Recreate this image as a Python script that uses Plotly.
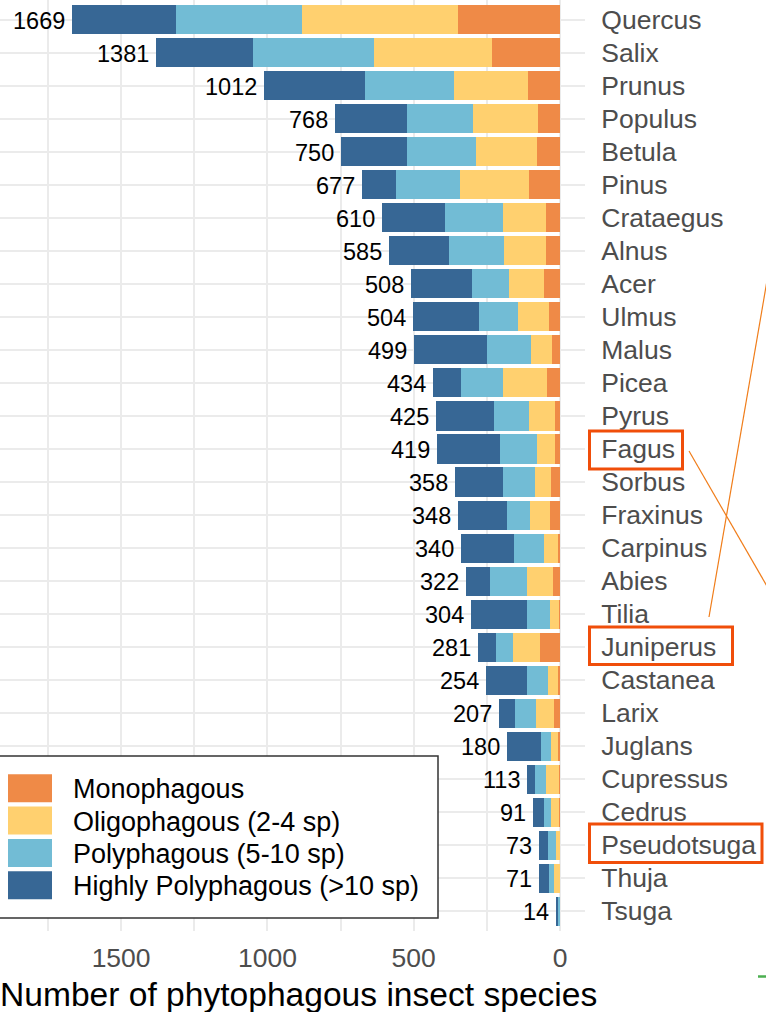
import plotly.graph_objects as go

# ---------------- data ----------------
genera = ["Quercus", "Salix", "Prunus", "Populus", "Betula", "Pinus", "Crataegus",
          "Alnus", "Acer", "Ulmus", "Malus", "Picea", "Pyrus", "Fagus", "Sorbus",
          "Fraxinus", "Carpinus", "Abies", "Tilia", "Juniperus", "Castanea", "Larix",
          "Juglans", "Cupressus", "Cedrus", "Pseudotsuga", "Thuja", "Tsuga"]
totals = [1669, 1381, 1012, 768, 750, 677, 610, 585, 508, 504, 499, 434, 425, 419,
          358, 348, 340, 322, 304, 281, 254, 207, 180, 113, 91, 73, 71, 14]
monophagous = [349, 232, 110, 76, 79, 106, 47, 48, 55, 38, 27, 43, 16, 17,
               31, 33, 6, 25, 2, 67, 6, 21, 8, 2, 3, 1, 0, 0]
oligophagous = [533, 403, 252, 222, 208, 236, 148, 144, 119, 104, 73, 152, 90, 62,
                55, 69, 49, 88, 31, 92, 35, 62, 23, 46, 29, 11, 20, 0]
polyphagous = [431, 414, 304, 226, 235, 219, 197, 188, 127, 135, 149, 145, 119, 125,
               109, 80, 103, 126, 81, 60, 72, 71, 34, 36, 23, 30, 19, 9]
highly_poly = [356, 332, 346, 244, 228, 116, 218, 205, 207, 227, 250, 94, 200, 215,
               163, 166, 182, 83, 190, 62, 141, 53, 115, 29, 36, 31, 32, 5]
series_names = ["Monophagous", "Oligophagous (2-4 sp)", "Polyphagous (5-10 sp)",
                "Highly Polyphagous (>10 sp)"]
highlighted = ["Fagus", "Juniperus", "Pseudotsuga"]
x_ticks = [0, 500, 1000, 1500]

# ---------------- styling ----------------
colors = ["#ef8a47", "#ffd06f", "#72bcd5", "#376795"]
FONT = "Liberation Sans, Arial, Helvetica, sans-serif"
W, H = 766, 1012
PW, PH = 585, 931          # plot area (pixels)
PX_PER_UNIT = 0.2926
ZERO_PX = 560

def xp(px):
    return px / PW

def yp(py):
    return 1 - py / PH

fig = go.Figure()
for name, vals, col in zip(series_names, [monophagous, oligophagous, polyphagous, highly_poly], colors):
    fig.add_trace(go.Bar(
        y=genera, x=vals, name=name, orientation="h",
        marker=dict(color=col, line=dict(width=0)),
        width=0.88, showlegend=False,
        hovertemplate="%{y}: %{x}<extra>" + name + "</extra>",
    ))

annotations = []
# total labels
for g, t in zip(genera, totals):
    annotations.append(dict(
        x=t, y=g, xref="x", yref="y", text=str(t), showarrow=False,
        xanchor="right", yanchor="middle", xshift=-5, yshift=-1,
        font=dict(family=FONT, size=23.5, color="#000000"),
    ))

# x axis title
annotations.append(dict(
    x=xp(298), y=yp(994), xref="paper", yref="paper",
    text="Number of phytophagous insect species", showarrow=False,
    xanchor="center", yanchor="middle",
    font=dict(family=FONT, size=33.6, color="#000000"),
))

shapes = []
# manual legend
shapes.append(dict(type="rect", xref="paper", yref="paper",
                   x0=xp(-6), x1=xp(438), y0=yp(756), y1=yp(918),
                   fillcolor="white", line=dict(color="#333333", width=1.5), layer="above"))
for i, (name, col) in enumerate(zip(series_names, colors)):
    top = 774.3 + i * 32.3
    shapes.append(dict(type="rect", xref="paper", yref="paper",
                       x0=xp(8), x1=xp(52), y0=yp(top), y1=yp(top + 28),
                       fillcolor=col, line=dict(width=0), layer="above"))
    annotations.append(dict(
        x=xp(71), y=yp(top + 15), xref="paper", yref="paper", text=name,
        showarrow=False, xanchor="left", yanchor="middle",
        font=dict(family=FONT, size=27, color="#000000"),
    ))

# highlight boxes around labels
box_px = {"Fagus": (589.5, 682.5, 431, 469),
          "Juniperus": (589.5, 732.5, 627, 664.5),
          "Pseudotsuga": (589.5, 762, 824, 862.5)}
for g in highlighted:
    x0, x1, y0, y1 = box_px[g]
    shapes.append(dict(type="rect", xref="paper", yref="paper",
                       x0=xp(x0), x1=xp(x1), y0=yp(y0), y1=yp(y1),
                       line=dict(color="#f04e0a", width=3), layer="above"))

# connector lines
shapes.append(dict(type="line", xref="paper", yref="paper",
                   x0=xp(709), y0=yp(617), x1=xp(768), y1=yp(275),
                   line=dict(color="#f07d1a", width=1.2), layer="above"))
shapes.append(dict(type="line", xref="paper", yref="paper",
                   x0=xp(689), y0=yp(451), x1=xp(768), y1=yp(588),
                   line=dict(color="#f07d1a", width=1.2), layer="above"))
shapes.append(dict(type="line", xref="paper", yref="paper",
                   x0=xp(758), y0=yp(976.5), x1=xp(768), y1=yp(976.5),
                   line=dict(color="#4caf50", width=2.5), layer="above"))

x_lo = -(PW - ZERO_PX) / PX_PER_UNIT
x_hi = ZERO_PX / PX_PER_UNIT

fig.update_layout(
    width=W, height=H,
    margin=dict(l=0, r=W - PW, t=0, b=H - PH, pad=0),
    barmode="stack", bargap=0.12,
    plot_bgcolor="white", paper_bgcolor="white",
    font=dict(family=FONT),
    annotations=annotations, shapes=shapes,
    showlegend=False,
    xaxis=dict(
        range=[x_hi, x_lo], tickvals=x_ticks, ticktext=[str(v) for v in x_ticks],
        showgrid=True, gridcolor="#ebebeb", gridwidth=2,
        minor=dict(dtick=250, tick0=0, showgrid=True, gridcolor="#ebebeb", gridwidth=1.5),
        zeroline=False, showline=False,
        ticks="outside", ticklen=3, tickcolor="rgba(0,0,0,0)",
        tickfont=dict(family=FONT, size=26.5, color="#4d4d4d"),
        automargin=False, fixedrange=True,
    ),
    yaxis=dict(
        type="category", categoryorder="array", categoryarray=genera,
        range=[len(genera) - 0.4, -0.6], side="right",
        showgrid=True, gridcolor="#ebebeb", gridwidth=2,
        zeroline=False, showline=False,
        ticks="outside", ticklen=10, tickcolor="rgba(0,0,0,0)",
        tickfont=dict(family=FONT, size=26.5, color="#4d4d4d"),
        automargin=False, fixedrange=True,
    ),
)

fig.write_html("out.html",
               config={"displayModeBar": False},
               post_script="document.body.style.margin='0px';document.body.style.overflow='hidden';")
